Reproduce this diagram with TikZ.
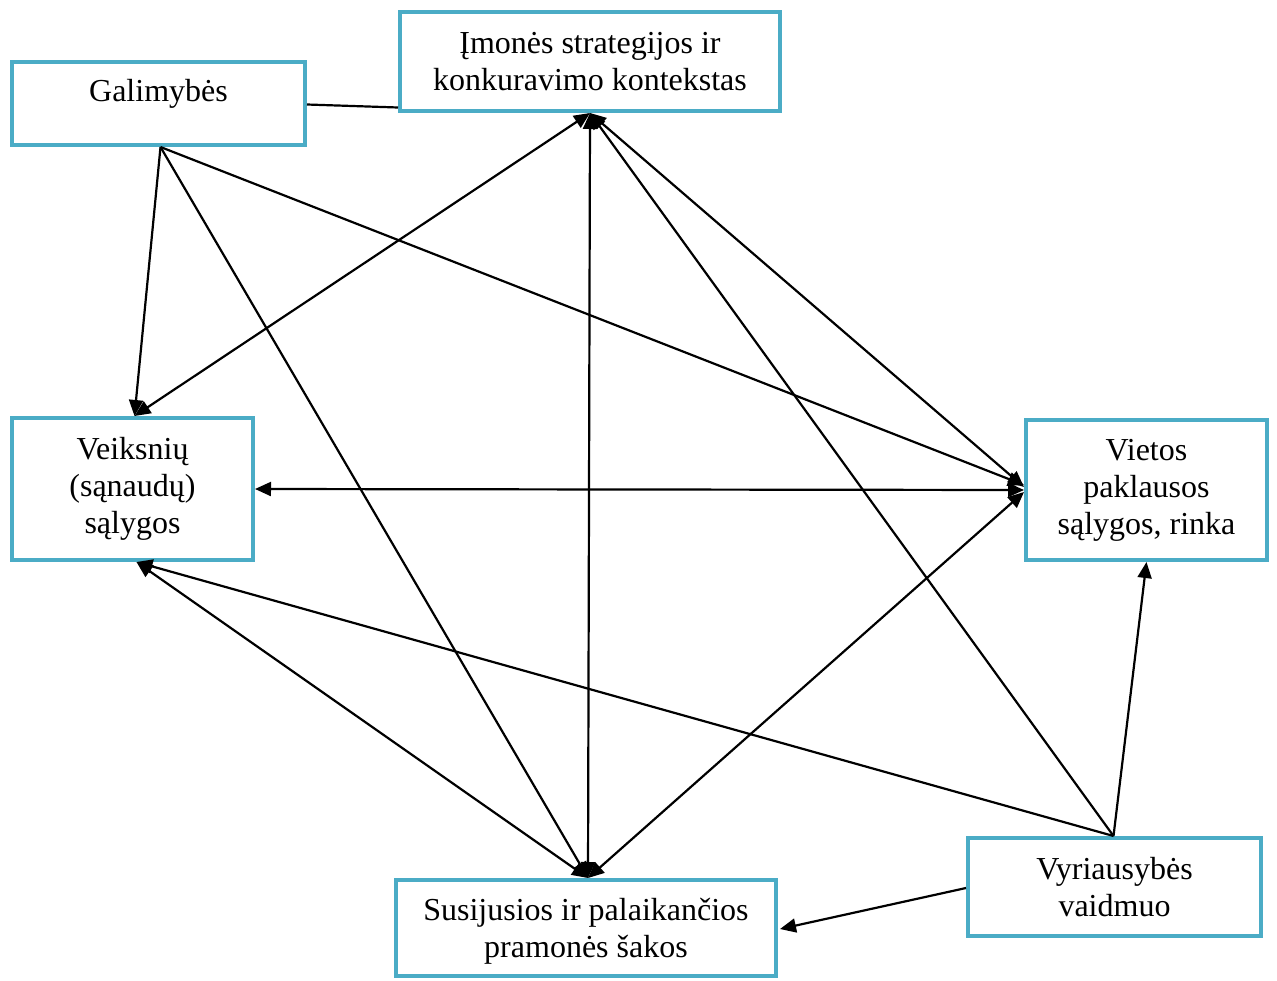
\documentclass[tikz,border=0pt]{standalone}
\usepackage{fontspec}
\setmainfont{Liberation Serif}
\usetikzlibrary{arrows.meta}
\definecolor{boxc}{HTML}{4BACC6}
\begin{document}
\begin{tikzpicture}[x=1pt,y=-1pt,
  box/.style={draw=boxc,line width=4pt,inner sep=0pt,align=center,font=\fontsize{32}{37}\selectfont},
  txt/.style={inner sep=0pt,align=center,font=\fontsize{32}{37}\selectfont},
  conn/.style={line width=2.2pt,black},
  ar/.style={conn,-{Triangle[length=16pt,width=14pt]}},
  dar/.style={conn,{Triangle[length=16pt,width=14pt]}-{Triangle[length=16pt,width=14pt]}}]
\useasboundingbox (0,0) rectangle (1277,980);
\node[box,minimum width=293pt,minimum height=83pt] (gal) at (158.5,103.5) {};
\node[txt] (galt) at (158.5,94) {Galimybės};
\node[box,minimum width=380pt,minimum height=99pt] (imo) at (590,61.5) {Įmonės strategijos ir\\konkuravimo kontekstas};
\node[box,minimum width=241pt,minimum height=142pt] (veik) at (132.5,489) {Veiksnių\\(sąnaudų)\\sąlygos};
\node[box,minimum width=241pt,minimum height=140pt] (viet) at (1146.5,490) {Vietos\\paklausos\\sąlygos, rinka};
\node[box,minimum width=380pt,minimum height=96pt] (sus) at (586,928) {};
\node[txt] (sust) at (586,931) {Susijusios ir palaikančios\\pramonės šakos};
\node[box,minimum width=293pt,minimum height=98pt] (vyr) at (1114.5,887) {Vyriausybės\\vaidmuo};
% plain link
\draw[conn] ([yshift=-1pt]gal.east) -- ([yshift=-46pt]imo.west);
% from Galimybes
\draw[ar] ([xshift=2pt]gal.south) -- ([xshift=2pt]veik.north);
\draw[ar] ([xshift=2pt]gal.south) -- ([xshift=2pt]sus.north);
\draw[ar] ([xshift=2pt]gal.south) -- ([yshift=5pt]viet.west);
% from Imones
\draw[dar] (imo.south) -- ([xshift=2pt]veik.north);
\draw[dar] (imo.south) -- ([xshift=2pt]sus.north);
\draw[dar] (imo.south) -- ([yshift=3pt]viet.west);
% horizontal and others
\draw[dar] (veik.east) -- (viet.west);
\draw[dar] ([xshift=4pt]veik.south) -- ([xshift=2pt]sus.north);
\draw[dar] ([yshift=-2pt]viet.west) -- ([xshift=2pt]sus.north);
% from Vyriausybes
\draw[ar] ([xshift=-1pt]vyr.north) -- (viet.south);
\draw[ar] ([xshift=-1pt]vyr.north) -- ([xshift=4pt]veik.south);
\draw[ar] ([xshift=-1pt]vyr.north) -- (imo.south);
\draw[ar] ([yshift=-1pt]vyr.west) -- ([xshift=2pt,yshift=-1pt]sus.east);
\end{tikzpicture}
\end{document}
